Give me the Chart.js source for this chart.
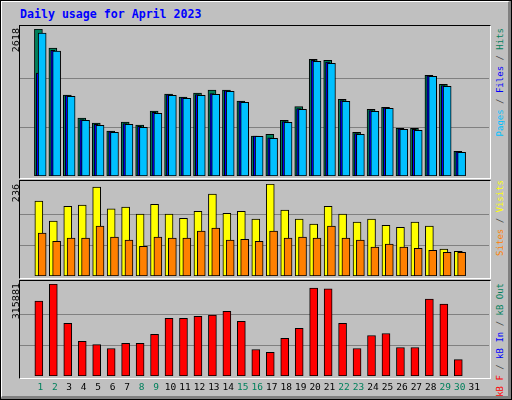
<!DOCTYPE html>
<html><head><meta charset="utf-8">
<script src="https://cdn.jsdelivr.net/npm/chart.js@4/dist/chart.umd.min.js"></script>
<style>
body{margin:0;background:#C0C0C0;}
#f{position:absolute;left:0;top:0;border-top:2px solid #fff;border-left:2px solid #fff;border-right:4px solid #808080;border-bottom:4px solid #808080;box-sizing:content-box;width:506px;height:394px;outline:1px solid #000;outline-offset:-1px}
.box{position:absolute;left:19px;width:470px;border-top:1px solid #000;border-left:1px solid #000;border-right:1px solid #fff;border-bottom:1px solid #fff;}
canvas{position:absolute}
.v{position:absolute;writing-mode:vertical-rl;transform:rotate(180deg);font-family:"DejaVu Sans Mono";font-size:9px;line-height:11px;white-space:nowrap}
.l{font-family:"DejaVu Sans";font-size:9.5px;color:#000}
#t{position:absolute;left:20px;top:7px;font:bold 11.6px "DejaVu Sans Mono";color:#0000FF}
</style></head><body>
<div id="f"></div>
<div id="t">Daily usage for April 2023</div>
<div class="box" style="top:25px;height:152px"></div>
<div class="box" style="top:180px;height:97px"></div>
<div class="box" style="top:280px;height:97px"></div>
<canvas id="c1" style="left:20px;top:29px;width:469px;height:147px"></canvas>
<canvas id="c2" style="left:20px;top:184px;width:469px;height:92px"></canvas>
<canvas id="c3" style="left:20px;top:284px;width:469px;height:114px"></canvas>
<div class="v l" style="left:10px;top:28px">2618</div>
<div class="v l" style="left:10px;top:184px">236</div>
<div class="v l" style="left:10px;top:283px">315881</div>
<div class="v" style="left:495px;top:28px"><span style="color:#00C0FF">Pages</span><span style="color:#404040"> / </span><span style="color:#0000FF">Files</span><span style="color:#404040"> / </span><span style="color:#00805C">Hits</span></div>
<div class="v" style="left:495px;top:180px"><span style="color:#FF8000">Sites</span><span style="color:#404040"> / </span><span style="color:#FFFF00">Visits</span></div>
<div class="v" style="left:495px;top:283px"><span style="color:#FF0000">kB F</span><span style="color:#404040"> / </span><span style="color:#0000FF">kB In</span><span style="color:#404040"> / </span><span style="color:#00805C">kB Out</span></div>
<script>
const days=[1,2,3,4,5,6,7,8,9,10,11,12,13,14,15,16,17,18,19,20,21,22,23,24,25,26,27,28,29,30];
const tickDays=[1,2,3,4,5,6,7,8,9,10,11,12,13,14,15,16,17,18,19,20,21,22,23,24,25,26,27,28,29,30,31];
const weekend=[1,2,8,9,15,16,22,23,29,30];
const hits=[2618,2280,1443,1033,944,801,962,908,1158,1460,1407,1478,1532,1532,1336,712,742,991,1235,2078,2060,1366,778,1188,1224,849,849,1794,1634,440];
const files=[1834,2240,1432,1005,920,792,935,885,1135,1450,1395,1450,1470,1520,1325,712,680,970,1200,2060,2030,1345,755,1165,1215,840,830,1785,1610,430];
const pages=[2544,2226,1420,991,904,778,921,868,1117,1437,1384,1437,1455,1508,1313,707,671,956,1188,2043,2007,1330,743,1152,1206,832,814,1776,1598,422];
const visits=[192,141,179,182,228,172,177,159,184,159,148,166,210,161,166,146,236,169,146,133,179,159,138,146,130,125,138,128,69,63];
const sites=[110,89,97,97,128,100,92,76,100,97,97,115,123,92,94,89,115,97,100,97,128,97,92,74,82,74,71,66,61,61];
const kbF=[257000,315881,181000,118700,108000,94500,112000,112000,143000,198000,198000,205000,209000,222000,188000,91000,81000,129000,164000,302000,299000,181000,94500,139000,146000,98000,98000,264000,247000,56000];
const maxV=[2618,236,315881];
const pts=(arr,off)=>arr.map((v,i)=>({x:days[i]+off,y:v}));
const ds=(arr,off,color,w)=>({type:'bar',grouped:false,data:pts(arr,off),backgroundColor:color,borderColor:'#000',borderWidth:1,barThickness:w,borderSkipped:false});
function mk(id,datasets,max,showX){
  new Chart(document.getElementById(id),{
    data:{datasets},
    options:{animation:false,responsive:false,devicePixelRatio:1,maintainAspectRatio:false,
      layout:{padding:0},plugins:{legend:{display:false},tooltip:{enabled:false}},
      scales:{
        x:{type:'linear',min:0.12,max:31.5,display:showX,grid:{display:false,drawTicks:false},border:{display:false},
          afterBuildTicks:a=>{a.ticks=tickDays.map(v=>({value:v}));},
          afterFit:a=>{if(showX)a.height=22;},
          ticks:{autoSkip:false,maxRotation:0,padding:6,font:{family:'DejaVu Sans Mono',size:9.5},
            color:c=>weekend.includes(c.tick.value)?'#00805C':'#000',callback:v=>String(v)}},
        y:{min:0,max:max,afterBuildTicks:a=>{a.ticks=[0,max/3,2*max/3,max].map(v=>({value:v}));},
          afterFit:a=>{a.width=0;},
          ticks:{display:false},border:{display:false},
          grid:{drawTicks:false,lineWidth:c=>(c.index==1||c.index==2)?1:0,color:'#808080'}}
      }}});
}
function size(id){const c=document.getElementById(id);c.width=parseInt(c.style.width);c.height=parseInt(c.style.height);}
['c1','c2','c3'].forEach(size);
mk('c1',[ds(pages,0.13,'#00C0FF',8),ds(files,-0.14,'#0000FF',4),ds(hits,-0.13,'#00805C',8)],maxV[0],false);
mk('c2',[ds(sites,0.13,'#FF8000',8),ds(visits,-0.1,'#FFFF00',8)],maxV[1],false);
mk('c3',[ds(kbF,-0.1,'#FF0000',8)],maxV[2],true);
</script></body></html>
